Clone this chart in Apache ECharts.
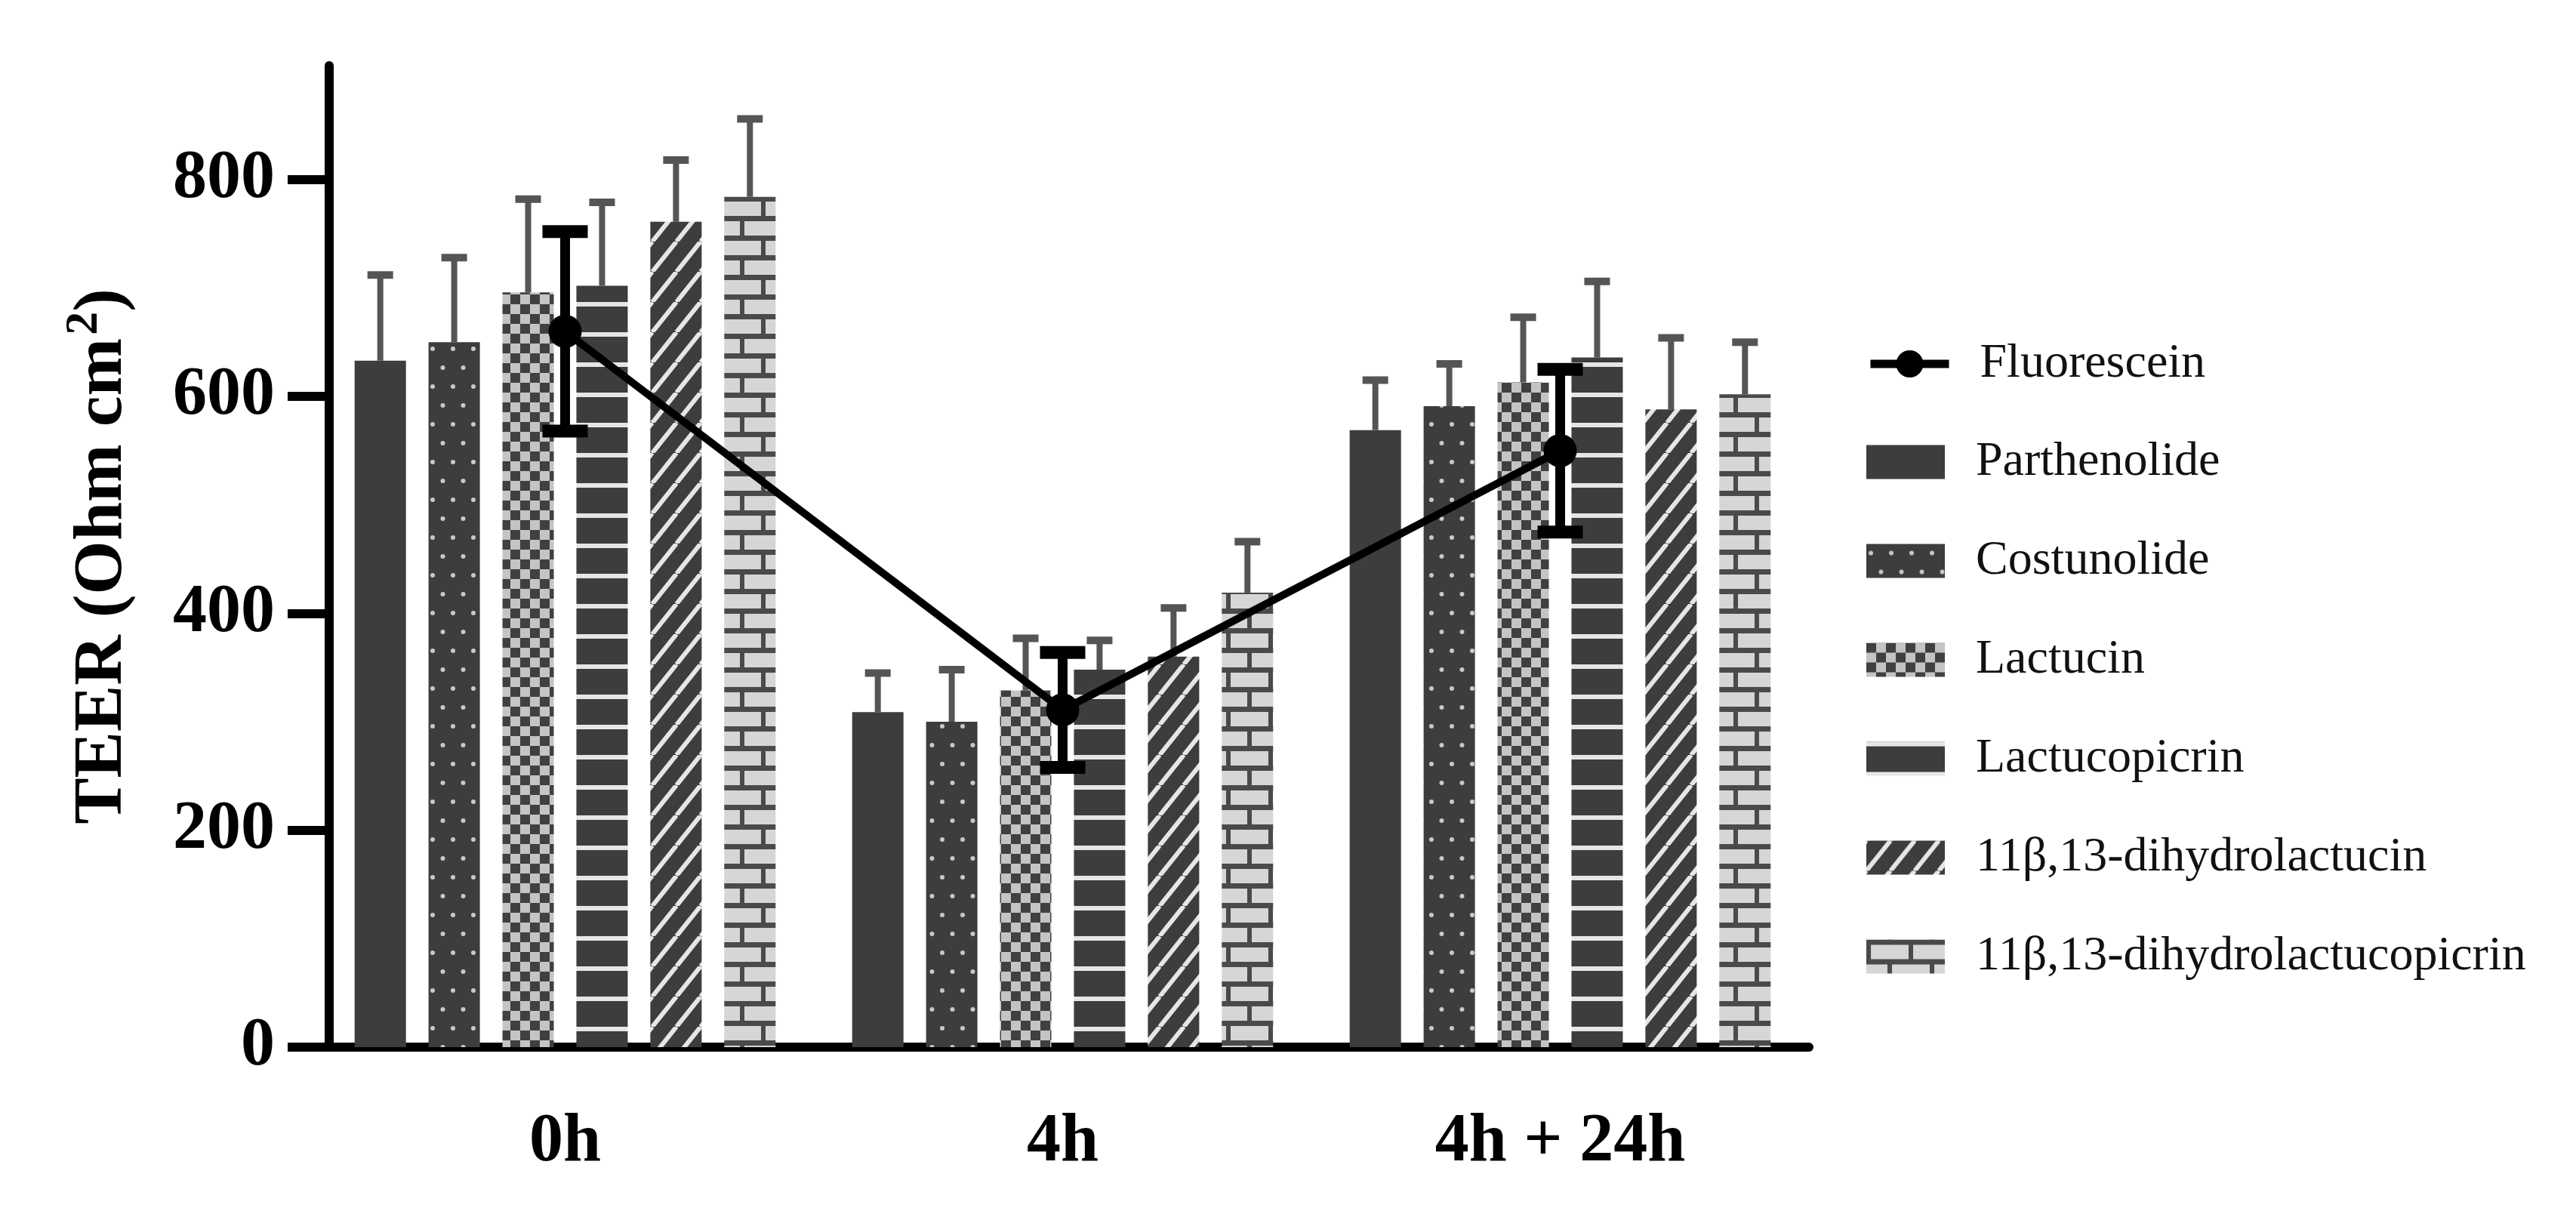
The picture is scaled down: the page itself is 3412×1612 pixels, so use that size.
<!DOCTYPE html>
<html>
<head>
<meta charset="utf-8">
<script src="https://cdn.jsdelivr.net/npm/echarts@6/dist/echarts.min.js"></script>
<style>
  html, body { margin: 0; padding: 0; background: #fff; }
  #chart { width: 3412px; height: 1612px; }
</style>
</head>
<body>
<div id="chart"></div>
<script>
// data (TEER, Ohm cm2)
const categories = ['0h', '4h', '4h + 24h']
const barNames = ['Parthenolide', 'Costunolide', 'Lactucin', 'Lactucopicrin',
  '11β,13-dihydrolactucin', '11β,13-dihydrolactucopicrin']

const parthenolide = [633, 309, 569]
const costunolide = [650, 300, 591]
const lactucin = [696, 329, 613]
const lactucopicrin = [702, 348, 636]
const dihydrolactucin = [761, 360, 588]
const dihydrolactucopicrin = [784, 419, 602]

const parthenolideSd = [79, 36, 46]
const costunolideSd = [78, 48, 39]
const lactucinSd = [86, 48, 60]
const lactucopicrinSd = [77, 27, 70]
const dihydrolactucinSd = [57, 45, 66]
const dihydrolactucopicrinSd = [72, 47, 48]

const fluorescein = [660, 311, 550]
const fluoresceinSd = [92, 53, 75]

const yTicks = [0, 200, 400, 600, 800]

const barMeans = [parthenolide, costunolide, lactucin, lactucopicrin, dihydrolactucin, dihydrolactucopicrin]
const barSds = [parthenolideSd, costunolideSd, lactucinSd, lactucopicrinSd, dihydrolactucinSd, dihydrolactucopicrinSd]

const BAR_W = 68
const BAR_GAP = 0.44
const DARK = '#3d3d3d'

// fill patterns drawn on small canvases
function tile (w, h, draw) {
  const c = document.createElement('canvas')
  c.width = w
  c.height = h
  draw(c.getContext('2d'), w, h)
  return { image: c, repeat: 'repeat' }
}

const fills = [
  DARK,
  tile(27, 50, (g, w, h) => {
    g.fillStyle = DARK; g.fillRect(0, 0, w, h)
    g.fillStyle = '#c9c9c9'
    g.beginPath(); g.arc(6, 12, 3, 0, Math.PI * 2); g.fill()
    g.beginPath(); g.arc(19.5, 37, 3, 0, Math.PI * 2); g.fill()
  }),
  tile(26, 26, (g, w, h) => {
    g.fillStyle = '#c4c4c4'; g.fillRect(0, 0, w, h)
    g.fillStyle = '#404040'
    g.fillRect(0, 0, 13, 13); g.fillRect(13, 13, 13, 13)
  }),
  tile(10, 40, (g, w, h) => {
    g.fillStyle = DARK; g.fillRect(0, 0, w, h)
    g.fillStyle = '#e6e6e6'; g.fillRect(0, 0, w, 6)
  }),
  tile(32, 40, (g, w, h) => {
    g.fillStyle = DARK; g.fillRect(0, 0, w, h)
    g.strokeStyle = '#e6e6e6'; g.lineWidth = 6
    for (let dx = -w; dx <= w; dx += w) {
      g.beginPath(); g.moveTo(dx, h); g.lineTo(dx + w, 0); g.stroke()
    }
  }),
  tile(56, 52, (g, w, h) => {
    g.fillStyle = '#d6d6d6'; g.fillRect(0, 0, w, h)
    g.fillStyle = '#4a4a4a'
    g.fillRect(0, 0, w, 7); g.fillRect(0, 26, w, 7)
    g.fillRect(0, 0, 6, 26); g.fillRect(28, 26, 6, 26)
  })
]

const barErrData = []
barMeans.forEach((arr, s) => arr.forEach((v, c) => barErrData.push([c, s, v, barSds[s][c]])))
const fluorErrData = fluorescein.map((v, c) => [c, v, fluoresceinSd[c]])

function renderBarErr (params, api) {
  const c = api.value(0)
  const s = api.value(1)
  const m = api.value(2)
  const e = api.value(3)
  const base = api.coord([c, m])
  const top = api.coord([c, m + e])
  const x = base[0] + (s - (barNames.length - 1) / 2) * BAR_W * (1 + BAR_GAP)
  return {
    type: 'group',
    children: [
      { type: 'line', shape: { x1: x, y1: base[1], x2: x, y2: top[1] }, style: { stroke: '#555', lineWidth: 8 } },
      { type: 'line', shape: { x1: x - 17, y1: top[1], x2: x + 17, y2: top[1] }, style: { stroke: '#555', lineWidth: 10 } }
    ]
  }
}

function renderFluorErr (params, api) {
  const c = api.value(0)
  const m = api.value(1)
  const e = api.value(2)
  const hi = api.coord([c, m + e])
  const lo = api.coord([c, m - e])
  const x = hi[0]
  return {
    type: 'group',
    children: [
      { type: 'line', shape: { x1: x, y1: hi[1], x2: x, y2: lo[1] }, style: { stroke: '#000', lineWidth: 13 } },
      { type: 'line', shape: { x1: x - 30, y1: hi[1], x2: x + 30, y2: hi[1] }, style: { stroke: '#000', lineWidth: 17 } },
      { type: 'line', shape: { x1: x - 30, y1: lo[1], x2: x + 30, y2: lo[1] }, style: { stroke: '#000', lineWidth: 17 } }
    ]
  }
}

const axisFont = { fontFamily: 'Liberation Serif', fontWeight: 'bold', fontSize: 90, color: '#000' }
const legendText = {
  fontFamily: 'Liberation Serif', fontSize: 64, color: '#111',
  lineHeight: 45, padding: [0, 0, 0, 36]
}

const series = barNames.map((name, i) => ({
  name: name,
  type: 'bar',
  data: barMeans[i],
  barWidth: BAR_W,
  barGap: (BAR_GAP * 100) + '%',
  itemStyle: { color: fills[i] },
  z: 2
}))

series.push({
  type: 'custom',
  name: 'barErr',
  data: barErrData,
  renderItem: renderBarErr,
  encode: { x: 0, y: 2 },
  z: 3
})
series.push({
  name: 'Fluorescein',
  type: 'line',
  data: fluorescein,
  symbol: 'circle',
  symbolSize: 44,
  lineStyle: { color: '#000', width: 10 },
  itemStyle: { color: '#000' },
  z: 5
})
series.push({
  type: 'custom',
  name: 'fluorErr',
  data: fluorErrData,
  renderItem: renderFluorErr,
  encode: { x: 0, y: 1 },
  z: 6
})

const chart = echarts.init(document.getElementById('chart'))
chart.setOption({
  backgroundColor: '#fff',
  animation: false,
  grid: { left: 419, right: 1016, top: 87, bottom: 225, containLabel: false },
  legend: [
    {
      data: ['Fluorescein'],
      left: 2472, top: 450, padding: 0,
      itemWidth: 104, itemHeight: 45,
      lineStyle: { width: 11, color: '#000' },
      itemStyle: { color: '#000' },
      textStyle: legendText
    },
    {
      data: barNames,
      icon: 'rect',
      orient: 'vertical',
      left: 2472, top: 580, padding: 0,
      itemWidth: 104, itemHeight: 45, itemGap: 67,
      textStyle: legendText
    }
  ],
  xAxis: {
    type: 'category',
    data: categories,
    axisLine: { lineStyle: { color: '#000', width: 12 } },
    axisTick: { alignWithLabel: true, length: 55, lineStyle: { color: '#000', width: 12 } },
    axisLabel: Object.assign({ margin: 82 }, axisFont)
  },
  yAxis: {
    type: 'value',
    min: 0,
    max: 905,
    offset: -17,
    splitLine: { show: false },
    axisLine: { show: true, lineStyle: { color: '#000', width: 12 } },
    axisTick: { show: true, length: 55, customValues: yTicks, lineStyle: { color: '#000', width: 12 } },
    axisLabel: Object.assign({ margin: 72, customValues: yTicks }, axisFont),
    name: '{a|TEER (Ohm cm}{s|2}{a|)}',
    nameLocation: 'middle',
    nameGap: 245,
    nameTextStyle: {
      rich: {
        a: { fontFamily: 'Liberation Serif', fontWeight: 'bold', fontSize: 92, color: '#000' },
        s: { fontFamily: 'Liberation Serif', fontWeight: 'bold', fontSize: 62, color: '#000', padding: [0, 0, 48, 4] }
      }
    }
  },
  series: series
})
</script>
</body>
</html>
